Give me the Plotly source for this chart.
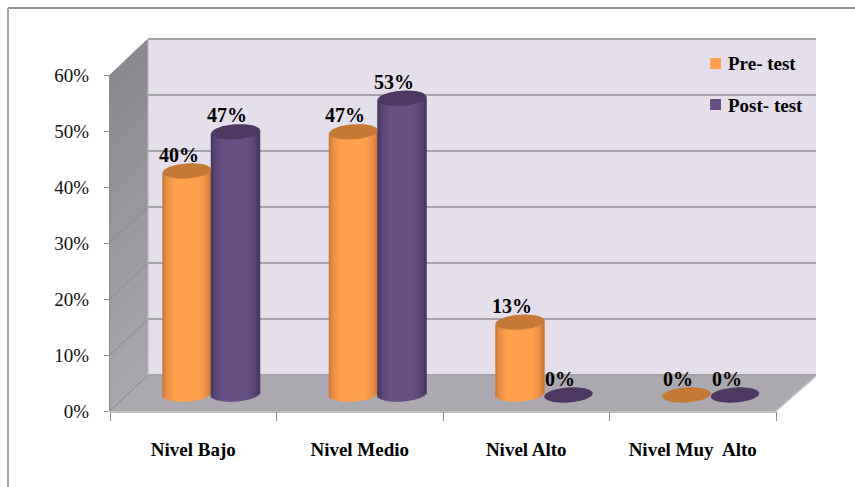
import math
import plotly.graph_objects as go

categories = ["Nivel Bajo", "Nivel Medio", "Nivel Alto", "Nivel Muy  Alto"]
pre_test = [40, 47, 13, 0]
post_test = [47, 53, 0, 0]
y_ticks = [0, 10, 20, 30, 40, 50, 60]
y_tick_labels = ["0%", "10%", "20%", "30%", "40%", "50%", "60%"]

W, H = 855, 487
FONT = "Liberation Serif"
X0, X1, Y0, Y60 = 110, 776, 411, 75     # front axis box, px
DX, DY = 38, 35                          # depth of the 3D box, px
BACK_TOP = 39
PX_PER_PCT = (Y0 - Y60) / 60
PX_PER_CAT = (X1 - X0) / len(categories)
DEPTH_UNITS = 16 / PX_PER_PCT            # bars stand 16 px above the front edge
X_SHIFT = 18 / PX_PER_CAT
BAR_W = 48.5 / PX_PER_CAT
E_H = 7.5 / PX_PER_PCT                   # ellipse half height
TILT = 1.6 / PX_PER_PCT
N = 24


def px(x):
    return x / W


def py(y):
    return 1 - y / H


def poly(points, fill, layer="below", line=None):
    d = "M " + " L ".join(f"{px(a):.5f},{py(b):.5f}" for a, b in points) + " Z"
    return dict(type="path", path=d, xref="paper", yref="paper", fillcolor=fill,
                line=line or dict(width=0), layer=layer)


def seg(a, b, c, d, color="#9b9a9c", width=2):
    return dict(type="line", xref="paper", yref="paper", x0=px(a), y0=py(b), x1=px(c), y1=py(d),
                line=dict(color=color, width=width), layer="below")


def mix(c1, c2, t):
    return "rgb(" + ",".join(str(round(a + (b - a) * t)) for a, b in zip(c1, c2)) + ")"


shapes = []
# outer frame
shapes += [seg(8, 8, W, 8, "#8f8f8f", 2), seg(8, 8, 8, H, "#a6a6a6", 2)]
# back wall
shapes.append(poly([(X0 + DX, BACK_TOP), (X1 + DX + 2, BACK_TOP), (X1 + DX + 2, Y0 - DY), (X0 + DX, Y0 - DY)], "#e5dfec"))
# left wall, banded top to bottom
BANDS = 14
for k in range(BANDS):
    t0, t1 = k / BANDS, (k + 1) / BANDS + 0.005
    ya = Y60 + (Y0 - Y60) * t0
    yb = Y60 + (Y0 - Y60) * t1
    shapes.append(poly([(X0, ya), (X0 + DX, ya - (Y60 - BACK_TOP)), (X0 + DX, yb - (Y60 - BACK_TOP)), (X0, yb)],
                       mix((140, 138, 144), (168, 166, 172), k / (BANDS - 1))))
# floor
shapes.append(poly([(X0, Y0), (X0 + DX, Y0 - DY), (X1 + DX + 2, Y0 - DY), (X1, Y0)], "#aba8b0"))
# gridlines on the walls
for v in y_ticks:
    yf = Y0 - v * PX_PER_PCT
    yb = yf - (Y60 - BACK_TOP)
    shapes.append(seg(X0, yf, X0 + DX, yb, "#8a898c", 1))
    shapes.append(seg(X0 + DX, yb, X1 + DX + 2, yb, "#a3a2a5", 2))
shapes.append(seg(X0 + DX, BACK_TOP, X0 + DX, Y0 - DY, "#b9b7bc", 1))
shapes.append(seg(X1, Y0, X1 + DX + 2, Y0 - DY, "#c4c4c4", 1.5))
shapes.append(seg(X0, Y0 + 1, X1, Y0 + 1, "#bdbdbd", 2))

series = [
    ("Pre- test", pre_test, -0.5, (255, 160, 76), (176, 104, 44), "#c47a36"),
    ("Post- test", post_test, 0.5, (103, 80, 132), (58, 42, 80), "#4c3862"),
]

traces = []
annotations = []
caps = []
for name, values, side, mid, edge, top in series:
    centers = [i + X_SHIFT + side * BAR_W for i in range(len(values))]
    for j in range(N):
        u = -1 + (2 * j + 1) / N
        shade = min(1.0, math.sqrt(1 - u * u) ** 0.9 * 1.12)
        base = [-E_H * math.sqrt(1 - u * u) + TILT * u + 1 / PX_PER_PCT if v > 0 else None for v in values]
        traces.append(go.Bar(
            x=[c + u * BAR_W / 2 for c in centers],
            y=[v + TILT * u - b if v > 0 else None for v, b in zip(values, base)],
            base=base,
            width=BAR_W / N * 1.5,
            yaxis="y2",
            marker=dict(color=mix(edge, mid, shade), line=dict(width=0)),
            showlegend=False,
            hoverinfo="skip",
        ))
    for c, v in zip(centers, values):
        pts = []
        for k in range(48):
            a = 2 * math.pi * k / 48
            pts.append((c + BAR_W / 2 * math.cos(a), v + E_H * math.sin(a) + TILT * math.cos(a)))
        d = "M " + " L ".join(f"{a:.4f},{b:.4f}" for a, b in pts) + " Z"
        caps.append(dict(type="path", path=d, xref="x", yref="y2", fillcolor=top, line=dict(width=0), layer="above"))
        annotations.append(dict(x=c, y=v, xref="x", yref="y2", text=f"<b>{v}%</b>", showarrow=False,
                                xshift=-8.5, yshift=16.5, xanchor="center", yanchor="middle",
                                font=dict(family=FONT, size=20, color="#000000")))

shapes += caps

# legend
for (name, _, _, mid, _, _), y_c in zip(series, [64, 105]):
    shapes.append(poly([(710, y_c - 6), (721, y_c - 6), (721, y_c + 5), (710, y_c + 5)],
                       mix(mid, mid, 0), layer="above"))
    annotations.append(dict(x=px(726), y=py(y_c), xref="paper", yref="paper", text=f"<b>{name}</b>",
                            showarrow=False, xanchor="left", yanchor="middle",
                            font=dict(family=FONT, size=19, color="#000000")))

# keeps the visible percentage axis alive; its marks are fully transparent
traces.append(go.Scatter(x=[0] * len(y_ticks), y=y_ticks, mode="markers", marker=dict(opacity=0),
                         showlegend=False, hoverinfo="skip"))

fig = go.Figure(traces)
fig.update_layout(
    width=W, height=H, margin=dict(l=0, r=0, t=0, b=0, autoexpand=False),
    paper_bgcolor="#ffffff", plot_bgcolor="rgba(0,0,0,0)",
    barmode="overlay", showlegend=False,
    shapes=shapes, annotations=annotations,
    xaxis=dict(
        automargin=False,
        domain=[px(X0), px(X1)], range=[-0.5, len(categories) - 0.5],
        tickmode="array", tickvals=list(range(len(categories))), ticktext=[f"<b>{c}</b>" for c in categories],
        ticks="", showgrid=False, zeroline=False, showline=False, ticklabelstandoff=25,
        tickfont=dict(family=FONT, size=19, color="#000000"),
        minor=dict(tickmode="array", tickvals=[i - 0.5 for i in range(len(categories) + 1)],
                   ticks="outside", ticklen=9, tickcolor="#8a8a8a", tickwidth=1, showgrid=False),
    ),
    yaxis=dict(
        automargin=False,
        domain=[py(Y0), py(Y60)], range=[0, 60],
        tickmode="array", tickvals=y_ticks, ticktext=y_tick_labels,
        ticks="outside", ticklen=5, tickcolor="#8a8a8a", tickwidth=1,
        showgrid=False, zeroline=False, showline=True, linecolor="#8a8a8a", linewidth=1,
        ticklabelstandoff=11,
        tickfont=dict(family=FONT, size=19, color="#111111"),
    ),
    yaxis2=dict(
        automargin=False,
        domain=[py(Y0), py(Y60)], overlaying="y", visible=False, range=[-DEPTH_UNITS, 60 - DEPTH_UNITS],
    ),
)
fig.write_html("out.html", config=dict(displayModeBar=False), post_script="document.body.style.margin='0';")
